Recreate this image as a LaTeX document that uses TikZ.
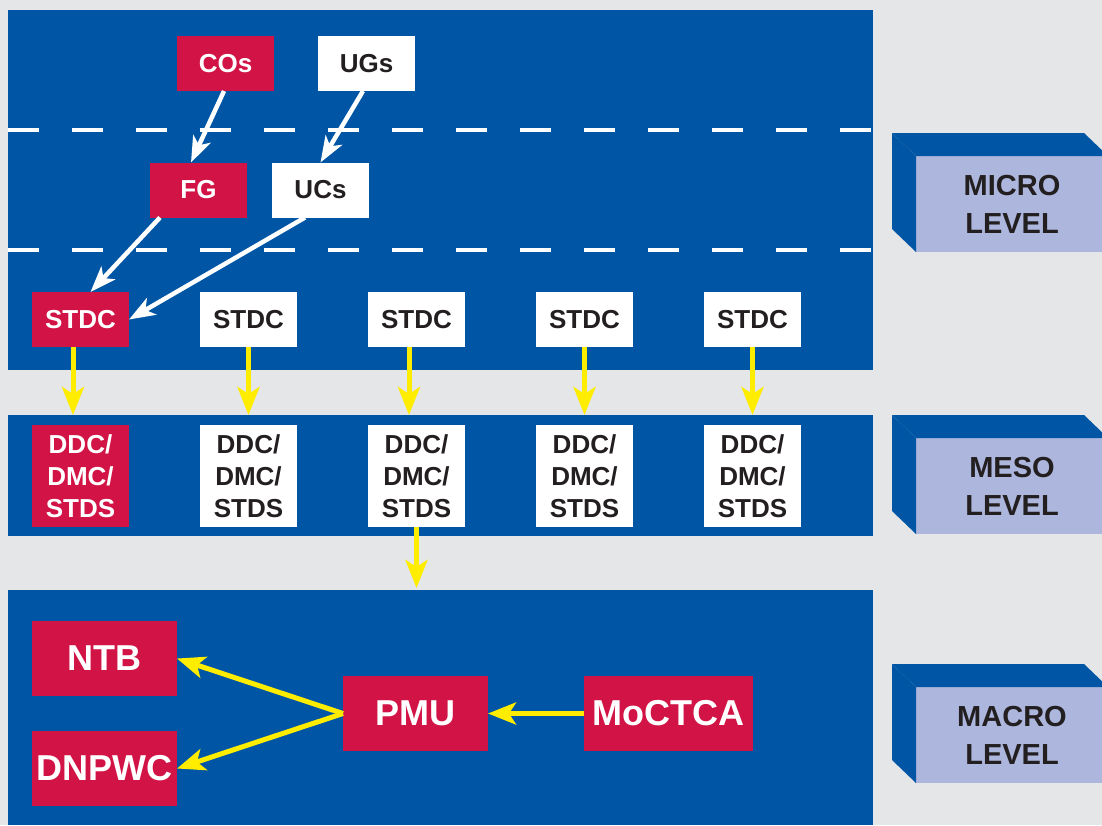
\documentclass[tikz,border=0pt]{standalone}
\usepackage{fontspec}
\setmainfont{Liberation Sans}
\usetikzlibrary{positioning,arrows.meta}
\definecolor{ccblue}{RGB}{0,85,165}
\definecolor{ccred}{RGB}{210,19,70}
\definecolor{cclav}{RGB}{173,183,221}
\definecolor{ccgrey}{RGB}{229,230,232}
\definecolor{ccyellow}{RGB}{255,237,0}
\definecolor{ccdark}{RGB}{35,31,32}
\tikzset{
  box/.style={inner sep=0pt, outer sep=0pt, align=center,
    font=\fontsize{26}{32}\selectfont\bfseries},
  redbox/.style={box, fill=ccred, text=white, minimum width=97pt, minimum height=55pt},
  whitebox/.style={box, fill=white, text=ccdark, minimum width=97pt, minimum height=55pt},
  tallbox/.style={minimum height=102pt},
  bigbox/.style={box, fill=ccred, text=white, minimum width=145pt, minimum height=75pt,
    font=\fontsize{36}{40}\selectfont\bfseries},
  levelbox/.style={box, fill=cclav, text=ccdark, minimum width=192pt, minimum height=96pt,
    font=\fontsize{29}{38}\selectfont\bfseries},
  warrow/.style={draw=white, line width=4.5pt, -{Stealth[length=26pt,width=19pt,inset=7pt]}},
  yarrow/.style={draw=ccyellow, line width=5pt, -{Stealth[length=28pt,width=22pt,inset=7pt]}}
}
\begin{document}
\begin{tikzpicture}[x=1pt,y=-1pt]
  \useasboundingbox (0,0) rectangle (1102,825);
  \clip (0,0) rectangle (1102,825);
  \fill[ccgrey] (0,0) rectangle (1102,825);
  \fill[ccblue] (8,10) rectangle (873,370);
  \fill[ccblue] (8,415) rectangle (873,536);
  \fill[ccblue] (8,590) rectangle (873,825);
  \draw[white, line width=4.5pt, dash pattern=on 31pt off 33pt] (8,130) -- (873,130);
  \draw[white, line width=4.5pt, dash pattern=on 31pt off 33pt] (8,250) -- (873,250);

  \node(COs)   [redbox]   at (225.5,63.5) {COs};
  \node(UGs)   [whitebox] at (366.5,63.5) {UGs};
  \node(FG)    [redbox]   at (198.5,190)  {FG};
  \node(UCs)   [whitebox] at (320.5,190)  {UCs};

  \node(STDCa) [redbox]   at (80.5,319.5)       {STDC};
  \node(STDCb) [whitebox, right=71pt of STDCa] {STDC};
  \node(STDCc) [whitebox, right=71pt of STDCb] {STDC};
  \node(STDCd) [whitebox, right=71pt of STDCc] {STDC};
  \node(STDCe) [whitebox, right=71pt of STDCd] {STDC};

  \node(DDCa) [redbox, tallbox, below=78pt of STDCa]   {DDC/\\DMC/\\STDS};
  \node(DDCb) [whitebox, tallbox, below=78pt of STDCb] {DDC/\\DMC/\\STDS};
  \node(DDCc) [whitebox, tallbox, below=78pt of STDCc] {DDC/\\DMC/\\STDS};
  \node(DDCd) [whitebox, tallbox, below=78pt of STDCd] {DDC/\\DMC/\\STDS};
  \node(DDCe) [whitebox, tallbox, below=78pt of STDCe] {DDC/\\DMC/\\STDS};

  \node(NTB)    [bigbox] at (104.5,658.5)            {NTB};
  \node(DNPWC)  [bigbox, below=35pt of NTB]          {DNPWC};
  \node(PMU)    [bigbox] at (415.5,713.5)            {PMU};
  \node(MoCTCA) [bigbox, minimum width=169pt, right=96pt of PMU] {MoCTCA};
  \coordinate(MacroTop) at (416.5,588);

  \draw[warrow] ([xshift=-1.5pt]COs.south) -- ([xshift=-7.5pt]FG.north);
  \draw[warrow] ([xshift=-3.5pt]UGs.south) -- (UCs.north);
  \draw[warrow] ([xshift=10pt]FG.south west) -- ([xshift=10pt]STDCa.north);
  \draw[warrow] ([xshift=-15.5pt]UCs.south) -- (STDCa.east);

  \draw[yarrow] ([xshift=-7.5pt]STDCa.south) -- ([xshift=-7.5pt,yshift=10pt]DDCa.north);
  \draw[yarrow] (STDCb.south) -- ([yshift=10pt]DDCb.north);
  \draw[yarrow] ([xshift=-7.5pt]STDCc.south) -- ([xshift=-7.5pt,yshift=10pt]DDCc.north);
  \draw[yarrow] (STDCd.south) -- ([yshift=10pt]DDCd.north);
  \draw[yarrow] (STDCe.south) -- ([yshift=10pt]DDCe.north);
  \draw[yarrow] (DDCc.south) -- (MacroTop);
  \draw[yarrow] (PMU.west) -- (NTB.east);
  \draw[yarrow] (PMU.west) -- (DNPWC.east);
  \draw[yarrow] (MoCTCA.west) -- (PMU.east);

  \node(MicroLevel) [levelbox] at (1012,204) {MICRO\\LEVEL};
  \fill[ccblue] (MicroLevel.north west) -- ++(-24,-23) -- ++(192,0) -- (MicroLevel.north east) -- cycle;
  \fill[ccblue] (MicroLevel.north west) -- ++(-24,-23) -- ++(0,96) -- (MicroLevel.south west) -- cycle;
  \node(MesoLevel) [levelbox] at (1012,486) {MESO\\LEVEL};
  \fill[ccblue] (MesoLevel.north west) -- ++(-24,-23) -- ++(192,0) -- (MesoLevel.north east) -- cycle;
  \fill[ccblue] (MesoLevel.north west) -- ++(-24,-23) -- ++(0,96) -- (MesoLevel.south west) -- cycle;
  \node(MacroLevel) [levelbox] at (1012,735) {MACRO\\LEVEL};
  \fill[ccblue] (MacroLevel.north west) -- ++(-24,-23) -- ++(192,0) -- (MacroLevel.north east) -- cycle;
  \fill[ccblue] (MacroLevel.north west) -- ++(-24,-23) -- ++(0,96) -- (MacroLevel.south west) -- cycle;
\end{tikzpicture}
\end{document}
